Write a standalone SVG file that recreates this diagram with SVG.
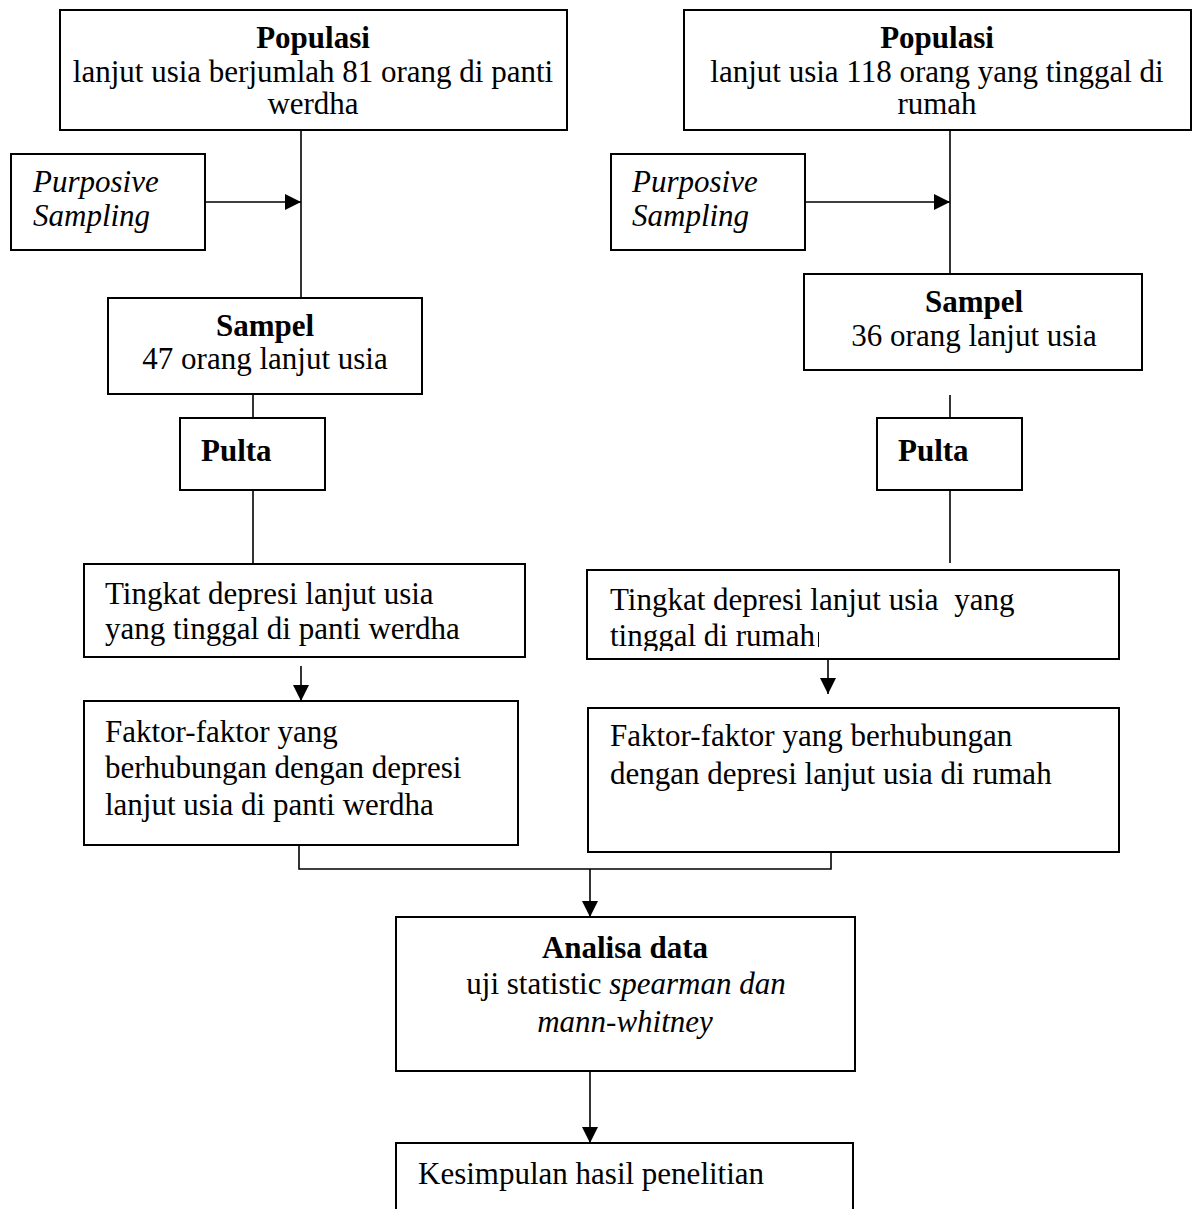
<svg xmlns="http://www.w3.org/2000/svg" width="1194" height="1209" viewBox="0 0 1194 1209">
<style>
  .box{fill:#fff;stroke:#000;stroke-width:2}
  .t{font-family:"Liberation Serif","Times New Roman",serif;font-size:31px;fill:#000}
  .b{font-weight:bold}
  .i{font-style:italic}
  .c{text-anchor:middle}
  .ln{fill:none;stroke:#000;stroke-width:1.6}
</style>
<defs>
  <marker id="ah" markerWidth="16" markerHeight="16" viewBox="0 0 16 16" refX="16" refY="8" orient="auto" markerUnits="userSpaceOnUse">
    <path d="M0,0 L16,8 L0,16 Z" fill="#000"/>
  </marker>
  <clipPath id="clipR"><rect x="587" y="570" width="532" height="81"/></clipPath>
</defs>
<rect width="1194" height="1209" fill="#fff"/>

<g id="connectors">
  <line class="ln" x1="301" y1="130" x2="301" y2="298"/>
  <line class="ln" x1="205" y1="202" x2="301" y2="202" marker-end="url(#ah)"/>
  <line class="ln" x1="253" y1="394" x2="253" y2="418"/>
  <line class="ln" x1="253" y1="490" x2="253" y2="564"/>
  <line class="ln" x1="301" y1="666" x2="301" y2="701" marker-end="url(#ah)"/>

  <line class="ln" x1="950" y1="130" x2="950" y2="274"/>
  <line class="ln" x1="805" y1="202" x2="950" y2="202" marker-end="url(#ah)"/>
  <line class="ln" x1="950" y1="395" x2="950" y2="418"/>
  <line class="ln" x1="950" y1="490" x2="950" y2="563"/>
  <line class="ln" x1="828" y1="659" x2="828" y2="694" marker-end="url(#ah)"/>

  <polyline class="ln" points="299,845 299,869 831,869 831,852"/>
  <line class="ln" x1="590" y1="869" x2="590" y2="917" marker-end="url(#ah)"/>
  <line class="ln" x1="590" y1="1071" x2="590" y2="1143" marker-end="url(#ah)"/>
</g>

<g id="populasi-panti">
  <rect class="box" x="60" y="10" width="507" height="120"/>
  <text class="t b c" x="313" y="48">Populasi</text>
  <text class="t c" x="313" y="82">lanjut usia berjumlah 81 orang di panti</text>
  <text class="t c" x="313" y="114">werdha</text>
</g>
<g id="purposive-panti">
  <rect class="box" x="11" y="154" width="194" height="96"/>
  <text class="t i" x="33" y="192">Purposive</text>
  <text class="t i" x="33" y="226">Sampling</text>
</g>
<g id="sampel-panti">
  <rect class="box" x="108" y="298" width="314" height="96"/>
  <text class="t b c" x="265" y="336">Sampel</text>
  <text class="t c" x="265" y="369">47 orang lanjut usia</text>
</g>
<g id="pulta-panti">
  <rect class="box" x="180" y="418" width="145" height="72"/>
  <text class="t b" x="201" y="461">Pulta</text>
</g>
<g id="tingkat-panti">
  <rect class="box" x="84" y="564" width="441" height="93"/>
  <text class="t" x="105" y="604">Tingkat depresi lanjut usia</text>
  <text class="t" x="105" y="639">yang tinggal di panti werdha</text>
</g>
<g id="faktor-panti">
  <rect class="box" x="84" y="701" width="434" height="144"/>
  <text class="t" x="105" y="742">Faktor-faktor yang</text>
  <text class="t" x="105" y="778">berhubungan dengan depresi</text>
  <text class="t" x="105" y="815">lanjut usia di panti werdha</text>
</g>

<g id="populasi-rumah">
  <rect class="box" x="684" y="10" width="507" height="120"/>
  <text class="t b c" x="937" y="48">Populasi</text>
  <text class="t c" x="937" y="82">lanjut usia 118 orang yang tinggal di</text>
  <text class="t c" x="937" y="114">rumah</text>
</g>
<g id="purposive-rumah">
  <rect class="box" x="611" y="154" width="194" height="96"/>
  <text class="t i" x="632" y="192">Purposive</text>
  <text class="t i" x="632" y="226">Sampling</text>
</g>
<g id="sampel-rumah">
  <rect class="box" x="804" y="274" width="338" height="96"/>
  <text class="t b c" x="974" y="312">Sampel</text>
  <text class="t c" x="974" y="346">36 orang lanjut usia</text>
</g>
<g id="pulta-rumah">
  <rect class="box" x="877" y="418" width="145" height="72"/>
  <text class="t b" x="898" y="461">Pulta</text>
</g>
<g id="tingkat-rumah">
  <rect class="box" x="587" y="570" width="532" height="89"/>
  <g clip-path="url(#clipR)">
    <text class="t" x="610" y="610" xml:space="preserve">Tingkat depresi lanjut usia  yang</text>
    <text class="t" x="610" y="646">tinggal di rumah</text>
  </g>
  <line x1="818.5" y1="632" x2="818.5" y2="647" stroke="#000" stroke-width="1"/>
</g>
<g id="faktor-rumah">
  <rect class="box" x="588" y="708" width="531" height="144"/>
  <text class="t" x="610" y="746">Faktor-faktor yang berhubungan</text>
  <text class="t" x="610" y="784">dengan depresi lanjut usia di rumah</text>
</g>

<g id="analisa">
  <rect class="box" x="396" y="917" width="459" height="154"/>
  <text class="t b c" x="625" y="958">Analisa data</text>
  <text class="t c" x="626" y="994">uji statistic <tspan class="i">spearman dan</tspan></text>
  <text class="t i c" x="625" y="1032">mann-whitney</text>
</g>
<g id="kesimpulan">
  <rect class="box" x="396" y="1143" width="457" height="80"/>
  <text class="t" x="418" y="1184">Kesimpulan hasil penelitian</text>
</g>
</svg>
